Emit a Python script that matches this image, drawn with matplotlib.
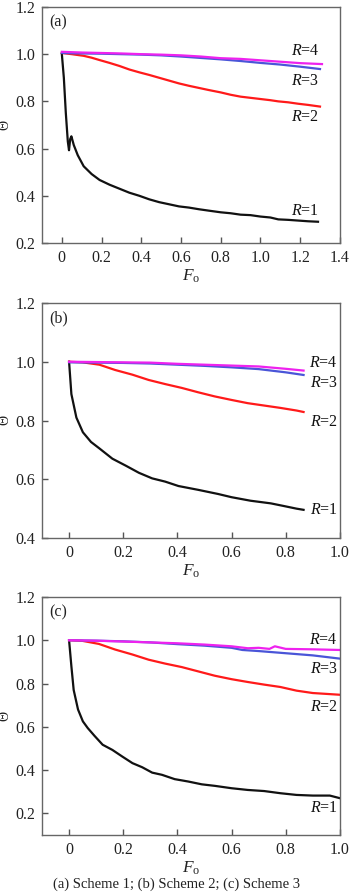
import matplotlib
matplotlib.use("Agg")
import matplotlib.pyplot as plt

plt.rcParams["font.family"] = ["Liberation Serif", "DejaVu Serif"]
plt.rcParams["mathtext.fontset"] = "custom"
plt.rcParams["mathtext.rm"] = "Liberation Serif"
plt.rcParams["mathtext.it"] = "Liberation Serif:italic"

# ---------------- Scheme 1 ----------------
a_fo_r1 = [0.0, 0.010, 0.020, 0.030, 0.036, 0.042, 0.048, 0.060, 0.080, 0.11, 0.15, 0.19, 0.24,
           0.29, 0.34, 0.39, 0.44, 0.49, 0.54, 0.59, 0.64, 0.69, 0.74, 0.80, 0.85, 0.90,
           0.95, 1.00, 1.05, 1.09, 1.14, 1.19, 1.24, 1.29]
a_th_r1 = [1.0, 0.90, 0.75, 0.63, 0.593, 0.64, 0.652, 0.615, 0.572, 0.525, 0.492, 0.467, 0.447,
           0.43, 0.413, 0.40, 0.385, 0.373, 0.364, 0.355, 0.350, 0.343, 0.337, 0.330, 0.326, 0.320,
           0.318, 0.312, 0.308, 0.300, 0.298, 0.295, 0.292, 0.290]
a_fo_r2 = [0.0, 0.05, 0.11, 0.15, 0.19, 0.24, 0.29, 0.34, 0.39, 0.44, 0.49, 0.54, 0.59, 0.64,
           0.69, 0.74, 0.80, 0.85, 0.90, 0.95, 1.00, 1.05, 1.09, 1.14, 1.19, 1.24, 1.30]
a_th_r2 = [1.005, 1.0, 0.993, 0.985, 0.975, 0.963, 0.950, 0.935, 0.923, 0.912, 0.900, 0.888,
           0.876, 0.866, 0.857, 0.848, 0.838, 0.828, 0.820, 0.815, 0.810, 0.805, 0.800, 0.796,
           0.790, 0.785, 0.778]
a_fo_r3 = [0.0, 0.1, 0.2, 0.3, 0.4, 0.5, 0.6, 0.7, 0.8, 0.9, 1.0, 1.1, 1.2, 1.30]
a_th_r3 = [1.005, 1.003, 1.002, 1.0, 0.998, 0.995, 0.990, 0.984, 0.978, 0.971, 0.963, 0.956,
           0.947, 0.937]
a_fo_r4 = [0.0, 0.1, 0.2, 0.3, 0.4, 0.5, 0.6, 0.7, 0.8, 0.9, 1.0, 1.1, 1.2, 1.31]
a_th_r4 = [1.01, 1.007, 1.005, 1.003, 1.0, 0.998, 0.995, 0.990, 0.983, 0.980, 0.974, 0.968,
           0.962, 0.958]

# ---------------- Scheme 2 ----------------
b_fo_r1 = [0.0, 0.0085, 0.027, 0.051, 0.081, 0.112, 0.16, 0.21, 0.258, 0.307, 0.355, 0.404,
           0.477, 0.55, 0.60, 0.67, 0.745, 0.793, 0.84, 0.866]
b_th_r1 = [1.0, 0.89, 0.81, 0.76, 0.727, 0.705, 0.67, 0.646, 0.622, 0.603, 0.592, 0.577,
           0.564, 0.550, 0.539, 0.527, 0.518, 0.509, 0.500, 0.496]
b_fo_r2 = [0.0, 0.05, 0.112, 0.17, 0.234, 0.294, 0.355, 0.416, 0.477, 0.538, 0.60, 0.66,
           0.72, 0.78, 0.84, 0.866]
b_th_r2 = [1.0, 0.998, 0.99, 0.972, 0.956, 0.938, 0.924, 0.911, 0.896, 0.882, 0.870, 0.859,
           0.851, 0.843, 0.834, 0.829]
b_fo_r3 = [0.0, 0.1, 0.2, 0.3, 0.4, 0.5, 0.6, 0.7, 0.8, 0.866]
b_th_r3 = [0.998, 0.997, 0.996, 0.994, 0.990, 0.986, 0.981, 0.975, 0.964, 0.955]
b_fo_r4 = [0.0, 0.1, 0.2, 0.3, 0.4, 0.5, 0.6, 0.7, 0.8, 0.866]
b_th_r4 = [1.0, 0.999, 0.998, 0.997, 0.993, 0.990, 0.987, 0.984, 0.976, 0.970]

# ---------------- Scheme 3 ----------------
c_fo_r1 = [0.0, 0.0085, 0.017, 0.033, 0.051, 0.069, 0.094, 0.124, 0.16, 0.197, 0.234, 0.27,
           0.307, 0.343, 0.39, 0.44, 0.49, 0.538, 0.60, 0.66, 0.72, 0.78, 0.84, 0.90,
           0.963, 1.0]
c_th_r1 = [1.0, 0.88, 0.77, 0.68, 0.625, 0.594, 0.558, 0.517, 0.493, 0.462, 0.432, 0.413,
           0.388, 0.378, 0.358, 0.347, 0.334, 0.327, 0.316, 0.308, 0.303, 0.293, 0.285, 0.282,
           0.282, 0.270]
c_fo_r2 = [0.0, 0.05, 0.11, 0.17, 0.234, 0.294, 0.355, 0.416, 0.477, 0.538, 0.60, 0.66,
           0.72, 0.78, 0.84, 0.90, 1.0]
c_th_r2 = [1.0, 0.997, 0.983, 0.957, 0.934, 0.910, 0.892, 0.876, 0.856, 0.836, 0.820, 0.807,
           0.795, 0.784, 0.767, 0.756, 0.748]
c_fo_r3 = [0.0, 0.1, 0.2, 0.3, 0.4, 0.5, 0.6, 0.64, 0.7, 0.8, 0.9, 1.0]
c_th_r3 = [1.0, 0.998, 0.995, 0.990, 0.982, 0.975, 0.965, 0.955, 0.950, 0.940, 0.930, 0.915]
c_fo_r4 = [0.0, 0.1, 0.2, 0.3, 0.4, 0.5, 0.6, 0.66, 0.70, 0.74, 0.76, 0.8, 0.9, 1.0]
c_th_r4 = [1.0, 0.998, 0.994, 0.990, 0.986, 0.980, 0.972, 0.963, 0.965, 0.960, 0.972, 0.960,
           0.958, 0.955]

panels = [
    dict(tag="(a)", rect=[0.12, 0.7279, 0.851, 0.2643], xlim=(-0.1, 1.4),
         xticks=[0, 0.2, 0.4, 0.6, 0.8, 1.0, 1.2, 1.4],
         ylim=(0.2, 1.2), yticks=[0.2, 0.4, 0.6, 0.8, 1.0, 1.2],
         series=[(a_fo_r1, a_th_r1), (a_fo_r2, a_th_r2), (a_fo_r3, a_th_r3), (a_fo_r4, a_th_r4)],
         labels=[(1.225, 0.335), (1.225, 0.735), (1.225, 0.888), (1.225, 1.014)]),
    dict(tag="(b)", rect=[0.12, 0.3975, 0.851, 0.2632], xlim=(-0.1, 1.0),
         xticks=[0, 0.2, 0.4, 0.6, 0.8, 1.0],
         ylim=(0.4, 1.2), yticks=[0.4, 0.6, 0.8, 1.0, 1.2],
         series=[(b_fo_r1, b_th_r1), (b_fo_r2, b_th_r2), (b_fo_r3, b_th_r3), (b_fo_r4, b_th_r4)],
         labels=[(0.94, 0.496), (0.94, 0.794), (0.94, 0.929), (0.94, 0.997)]),
    dict(tag="(c)", rect=[0.12, 0.065, 0.851, 0.2665], xlim=(-0.1, 1.0),
         xticks=[0, 0.2, 0.4, 0.6, 0.8, 1.0],
         ylim=(0.1, 1.2), yticks=[0.2, 0.4, 0.6, 0.8, 1.0, 1.2],
         series=[(c_fo_r1, c_th_r1), (c_fo_r2, c_th_r2), (c_fo_r3, c_th_r3), (c_fo_r4, c_th_r4)],
         labels=[(0.94, 0.225), (0.94, 0.693), (0.94, 0.865), (0.94, 1.0)]),
]

colors = ["#111111", "#ff1a1a", "#4a55d8", "#ee22ee"]
r_names = ["1", "2", "3", "4"]

fig = plt.figure(figsize=(3.5, 8.93), dpi=100)
fig.patch.set_facecolor("white")

for p in panels:
    ax = fig.add_axes(p["rect"])
    for (fo, th), col in zip(p["series"], colors):
        ax.plot(fo, th, color=col, lw=1.6, solid_joinstyle="round")
    for (lx, ly), name in zip(p["labels"], r_names):
        ax.text(lx, ly, r"$R$=" + name, ha="center", va="center", fontsize=11.5,
                color="#111111")
    ax.set_xlim(*p["xlim"])
    ax.set_ylim(*p["ylim"])
    ax.set_xticks(p["xticks"])
    ax.set_xticklabels([("0" if t == 0 else f"{t:.1f}") for t in p["xticks"]])
    ax.set_yticks(p["yticks"])
    ax.set_yticklabels([f"{t:.1f}" for t in p["yticks"]])
    ax.tick_params(direction="in", length=4, width=1, colors="#555555",
                   labelcolor="#222222", labelsize=11.5, pad=5)
    for s in ax.spines.values():
        s.set_color("#666666")
        s.set_linewidth(1.0)
    ax.text(0.025, 0.935, p["tag"], transform=ax.transAxes, ha="left", va="center",
            fontsize=11.5, color="#222222")
    ax.set_xlabel(r"$F_{\mathrm{o}}$", fontsize=12.5, labelpad=1, color="#222222")
    ax.set_ylabel(r"$\Theta$", fontsize=10, labelpad=2, color="#222222")

fig.text(0.505, 0.0095, "(a) Scheme 1; (b) Scheme 2; (c) Scheme 3", ha="center",
         va="center", fontsize=10.5, color="#222222")

fig.savefig("out.png", dpi=100)
